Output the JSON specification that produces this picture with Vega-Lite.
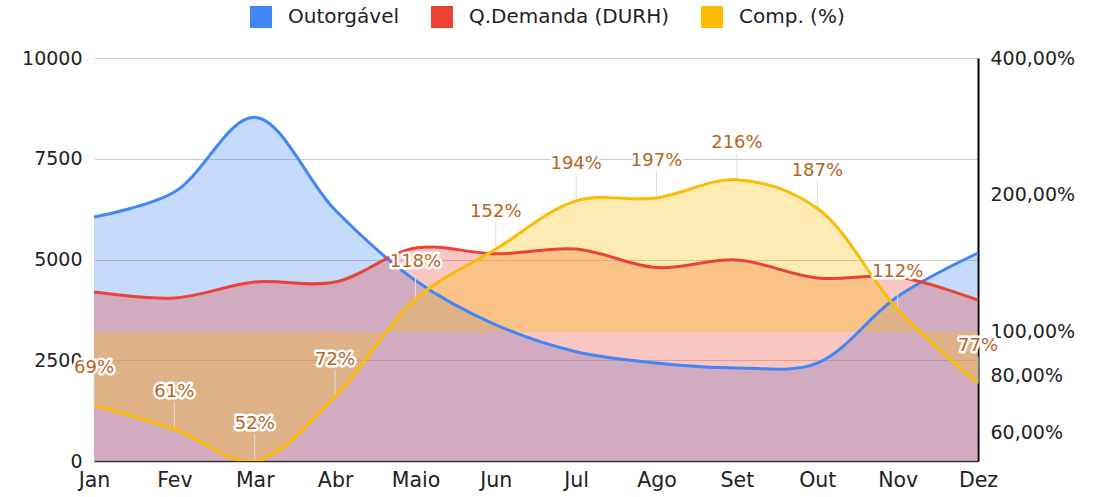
{
  "$schema": "https://vega.github.io/schema/vega-lite/v6.json",
  "width": 884,
  "height": 403,
  "autosize": {"type": "none"},
  "padding": {"left": 94, "top": 58, "right": 121, "bottom": 36},
  "config": {
    "font": "DejaVu Sans",
    "view": {"stroke": null},
    "axis": {"labelFont": "DejaVu Sans", "labelColor": "#222222", "title": null}
  },
  "data": {
    "values": [
      {"mes": "Jan", "outorgavel": 6055, "demanda": 4194, "comp": 0.69},
      {"mes": "Fev", "outorgavel": 6675, "demanda": 4045, "comp": 0.61},
      {"mes": "Mar", "outorgavel": 8530, "demanda": 4440, "comp": 0.52},
      {"mes": "Abr", "outorgavel": 6228, "demanda": 4440, "comp": 0.72},
      {"mes": "Maio", "outorgavel": 4480, "demanda": 5285, "comp": 1.18},
      {"mes": "Jun", "outorgavel": 3380, "demanda": 5140, "comp": 1.52},
      {"mes": "Jul", "outorgavel": 2710, "demanda": 5260, "comp": 1.94},
      {"mes": "Ago", "outorgavel": 2432, "demanda": 4800, "comp": 1.97},
      {"mes": "Set", "outorgavel": 2310, "demanda": 4988, "comp": 2.16},
      {"mes": "Out", "outorgavel": 2430, "demanda": 4540, "comp": 1.87},
      {"mes": "Nov", "outorgavel": 4080, "demanda": 4570, "comp": 1.12},
      {"mes": "Dez", "outorgavel": 5161, "demanda": 3990, "comp": 0.77}
    ]
  },
  "encoding": {
    "x": {
      "field": "mes",
      "type": "ordinal",
      "sort": ["Jan", "Fev", "Mar", "Abr", "Maio", "Jun", "Jul", "Ago", "Set", "Out", "Nov", "Dez"],
      "scale": {"type": "point", "padding": 0},
      "axis": {
        "title": null,
        "labelAngle": 0,
        "labelFontSize": 20.5,
        "ticks": false,
        "grid": false,
        "domainColor": "#333333",
        "domainWidth": 1.5,
        "labelPadding": 9
      }
    }
  },
  "layer": [
    {
      "mark": {"type": "area", "interpolate": "catmull-rom", "fillOpacity": 0.3},
      "encoding": {
        "y": {
          "field": "outorgavel",
          "type": "quantitative",
          "scale": {"domain": [0, 10000], "nice": false},
          "axis": {
            "orient": "left",
            "values": [0, 2500, 5000, 7500, 10000],
            "format": "d",
            "grid": true,
            "gridColor": "#cccccc",
            "ticks": false,
            "domain": false,
            "labelPadding": 12,
            "labelFontSize": 19,
            "title": null
          }
        },
        "color": {
          "datum": "Outorgável",
          "type": "nominal",
          "scale": {
            "domain": ["Outorgável", "Q.Demanda (DURH)", "Comp. (%)"],
            "range": ["#4285F4", "#EA4335", "#FBBC04"]
          },
          "legend": {
            "orient": "none",
            "legendX": 156,
            "legendY": -52,
            "direction": "horizontal",
            "title": null,
            "symbolType": "square",
            "symbolSize": 484,
            "symbolOpacity": 1,
            "symbolStrokeWidth": 0,
            "labelFontSize": 20,
            "labelLimit": 400,
            "labelColor": "#222222",
            "labelOffset": 16,
            "columnPadding": 31,
            "padding": 0
          }
        }
      }
    },
    {
      "mark": {"type": "area", "interpolate": "catmull-rom", "fillOpacity": 0.3},
      "encoding": {
        "y": {"field": "demanda", "type": "quantitative", "scale": {"domain": [0, 10000], "nice": false}, "axis": null},
        "color": {"datum": "Q.Demanda (DURH)", "type": "nominal"}
      }
    },
    {
      "mark": {"type": "area", "interpolate": "catmull-rom", "fillOpacity": 0.3, "clip": true},
      "encoding": {
        "y": {
          "field": "comp",
          "type": "quantitative",
          "scale": {"type": "log", "domain": [0.52, 4], "nice": false},
          "axis": {
            "orient": "right",
            "values": [0.6, 0.8, 1, 2, 4],
            "labelExpr": "replace(format(datum.value*100, '.2f'), '.', ',') + '%'",
            "grid": false,
            "ticks": false,
            "domain": true,
            "domainColor": "#000000",
            "domainWidth": 2,
            "labelPadding": 12,
            "labelFontSize": 19,
            "title": null
          }
        },
        "y2": {"datum": 1},
        "color": {"datum": "Comp. (%)", "type": "nominal"}
      }
    },
    {
      "mark": {"type": "line", "interpolate": "catmull-rom", "strokeWidth": 3},
      "encoding": {
        "y": {"field": "outorgavel", "type": "quantitative", "scale": {"domain": [0, 10000], "nice": false}, "axis": null},
        "color": {"datum": "Outorgável", "type": "nominal"}
      }
    },
    {
      "mark": {"type": "line", "interpolate": "catmull-rom", "strokeWidth": 3},
      "encoding": {
        "y": {"field": "demanda", "type": "quantitative", "scale": {"domain": [0, 10000], "nice": false}, "axis": null},
        "color": {"datum": "Q.Demanda (DURH)", "type": "nominal"}
      }
    },
    {
      "mark": {"type": "rule", "color": "#dddddd", "strokeWidth": 1, "y2Offset": -27},
      "encoding": {
        "y": {"field": "comp", "type": "quantitative", "scale": {"type": "log", "domain": [0.52, 4], "nice": false}, "axis": null},
        "y2": {"field": "comp"}
      }
    },
    {
      "mark": {"type": "line", "interpolate": "catmull-rom", "strokeWidth": 3, "clip": true},
      "encoding": {
        "y": {"field": "comp", "type": "quantitative", "scale": {"type": "log", "domain": [0.52, 4], "nice": false}, "axis": null},
        "color": {"datum": "Comp. (%)", "type": "nominal"}
      }
    },
    {
      "mark": {"type": "text", "dy": -37, "fontSize": 18, "fill": "white", "stroke": "white", "strokeWidth": 5, "strokeJoin": "round"},
      "encoding": {
        "y": {"field": "comp", "type": "quantitative", "scale": {"type": "log", "domain": [0.52, 4], "nice": false}, "axis": null},
        "text": {"field": "comp", "type": "quantitative", "format": ".0%"}
      }
    },
    {
      "mark": {"type": "text", "dy": -37, "fontSize": 18, "color": "#b5651d"},
      "encoding": {
        "y": {"field": "comp", "type": "quantitative", "scale": {"type": "log", "domain": [0.52, 4], "nice": false}, "axis": null},
        "text": {"field": "comp", "type": "quantitative", "format": ".0%"}
      }
    }
  ],
  "resolve": {"scale": {"y": "independent"}}
}
